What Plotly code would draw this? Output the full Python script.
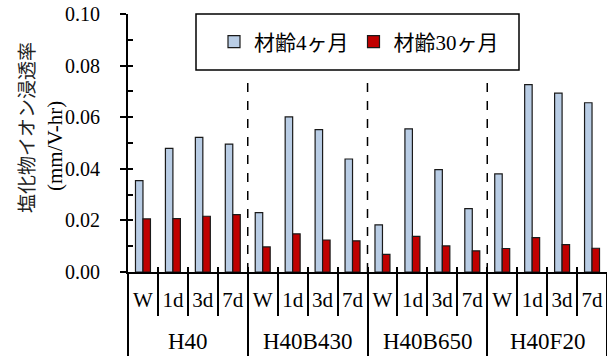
import plotly.graph_objects as go

groups = ["H40", "H40B430", "H40B650", "H40F20"]
conditions = ["W", "1d", "3d", "7d"]
series_names = ["材齢4ヶ月", "材齢30ヶ月"]
age4 = [0.0354, 0.0479, 0.0522, 0.0496,
        0.0230, 0.0601, 0.0552, 0.0438,
        0.0183, 0.0555, 0.0397, 0.0246,
        0.0380, 0.0726, 0.0693, 0.0656]
age30 = [0.0206, 0.0207, 0.0216, 0.0222,
         0.0097, 0.0148, 0.0124, 0.0121,
         0.0068, 0.0138, 0.0101, 0.0082,
         0.0091, 0.0133, 0.0106, 0.0092]
y_ticks = [0.00, 0.02, 0.04, 0.06, 0.08, 0.10]

W, H = 607, 356
AX_X, AX_TOP, AX_BOT = 128, 14, 272          # pixel positions of the plot box
L, R = AX_X, 0
T = AX_TOP
B = H - AX_BOT
plot_h = H - T - B
plot_w = W - L - R

n_per = len(conditions)
n = len(groups) * n_per
xs = list(range(n))
labels = conditions * len(groups)
bounds = [i - 0.5 for i in range(n + 1)]
gbounds = [g * n_per - 0.5 for g in range(len(groups) + 1)]
xr = [-0.5, n - 0.5]

SERIF = "Liberation Serif, Times New Roman, Noto Sans CJK JP"
font = dict(family=SERIF, size=20, color="black")
gfont = dict(family=SERIF, size=23, color="black")

def px_x(p):
    return (p - AX_X) / plot_w

def px_y(p):
    return (AX_BOT - p) / plot_h

fig = go.Figure()
fig.add_trace(go.Bar(x=xs, y=age4, name=series_names[0],
                     marker=dict(color="#b9cde5", line=dict(color="#1a1a1a", width=1.2))))
fig.add_trace(go.Bar(x=xs, y=age30, name=series_names[1],
                     marker=dict(color="#c00000", line=dict(color="#1a1a1a", width=1.2))))
for xa, ya in [("x2", "y"), ("x3", "y"), ("x4", "y"), ("x", "y2")]:
    fig.add_trace(go.Scatter(x=[xr[0]], y=[None], xaxis=xa, yaxis=ya,
                             showlegend=False, hoverinfo="skip", mode="markers"))

shapes = []
for gb in gbounds[1:-1]:
    shapes.append(dict(type="line", xref="x", yref="paper", x0=gb, x1=gb,
                       y0=0, y1=px_y(75),
                       line=dict(color="black", width=1.5, dash="dash")))
shapes.append(dict(type="rect", xref="paper", yref="paper",
                   x0=px_x(196), x1=px_x(519), y0=px_y(70), y1=1.0,
                   line=dict(color="black", width=1.5), fillcolor="white", layer="below"))

annotations = []
for g, name in enumerate(groups):
    cx = (xs[g * n_per] + xs[g * n_per + n_per - 1]) / 2
    annotations.append(dict(text=name, x=cx, xref="x", y=px_y(341),
                            yref="paper", showarrow=False, font=gfont,
                            xanchor="center", yanchor="middle"))
annotations.append(dict(text="塩化物イオン浸透率", x=px_x(25), y=px_y(128),
                        xref="paper", yref="paper", showarrow=False, textangle=-90,
                        font=dict(family="Noto Sans CJK JP", size=19, color="#222"),
                        xanchor="center", yanchor="middle"))
annotations.append(dict(text="(mm/V-hr)", x=px_x(55), y=px_y(146),
                        xref="paper", yref="paper", showarrow=False, textangle=-90,
                        font=dict(family=SERIF, size=21, color="black"),
                        xanchor="center", yanchor="middle"))

fig.update_layout(
    width=W, height=H,
    margin=dict(l=L, r=R, t=T, b=B, pad=0, autoexpand=False),
    paper_bgcolor="white", plot_bgcolor="white",
    barmode="group", bargap=0.5, bargroupgap=0,
    font=font,
    showlegend=True,
    legend=dict(orientation="h", x=px_x(214), y=px_y(42),
                xanchor="left", yanchor="middle", bgcolor="rgba(0,0,0,0)",
                borderwidth=0, font=dict(family=SERIF, size=21, color="black"),
                itemwidth=30),
    shapes=shapes, annotations=annotations,
    xaxis=dict(range=xr, tickmode="array", tickvals=xs, ticktext=labels,
               ticks="", showline=True, linecolor="black", linewidth=2,
               showgrid=False, zeroline=False, tickfont=dict(family=SERIF, size=21, color="black"),
               ticklabelstandoff=8, ticklabeloverflow="allow"),
    xaxis2=dict(overlaying="x", anchor="y", range=xr, tickmode="array", tickvals=bounds,
                ticks="outside", ticklen=43, tickwidth=1.5, tickcolor="black",
                showticklabels=False, showline=False, showgrid=False, zeroline=False),
    xaxis3=dict(overlaying="x", anchor="y", range=xr, tickmode="array", tickvals=bounds,
                ticks="inside", ticklen=5, tickwidth=1.5, tickcolor="black",
                showticklabels=False, showline=False, showgrid=False, zeroline=False),
    xaxis4=dict(overlaying="x", anchor="y", range=xr, tickmode="array", tickvals=gbounds,
                ticks="outside", ticklen=B + 2, tickwidth=1.5, tickcolor="black",
                showticklabels=False, showline=False, showgrid=False, zeroline=False),
    yaxis=dict(range=[0, 0.1], tickmode="array", tickvals=y_ticks,
               ticktext=[f"{v:.2f}" for v in y_ticks],
               ticks="outside", ticklen=6, tickwidth=1.5, tickcolor="black",
               showline=True, linecolor="black", linewidth=2, showgrid=False,
               zeroline=False, tickfont=font, ticklabelstandoff=16,
               ticklabeloverflow="allow"),
    yaxis2=dict(overlaying="y", anchor="x", range=[0, 0.1], tickmode="linear",
                tick0=0, dtick=0.01, ticks="inside", ticklen=5, tickwidth=1.5,
                tickcolor="black", showticklabels=False, showline=False,
                showgrid=False, zeroline=False),
)

fig.write_html("out.html", config={"displayModeBar": False},
               post_script="document.body.style.margin='0';document.body.style.overflow='hidden';")
